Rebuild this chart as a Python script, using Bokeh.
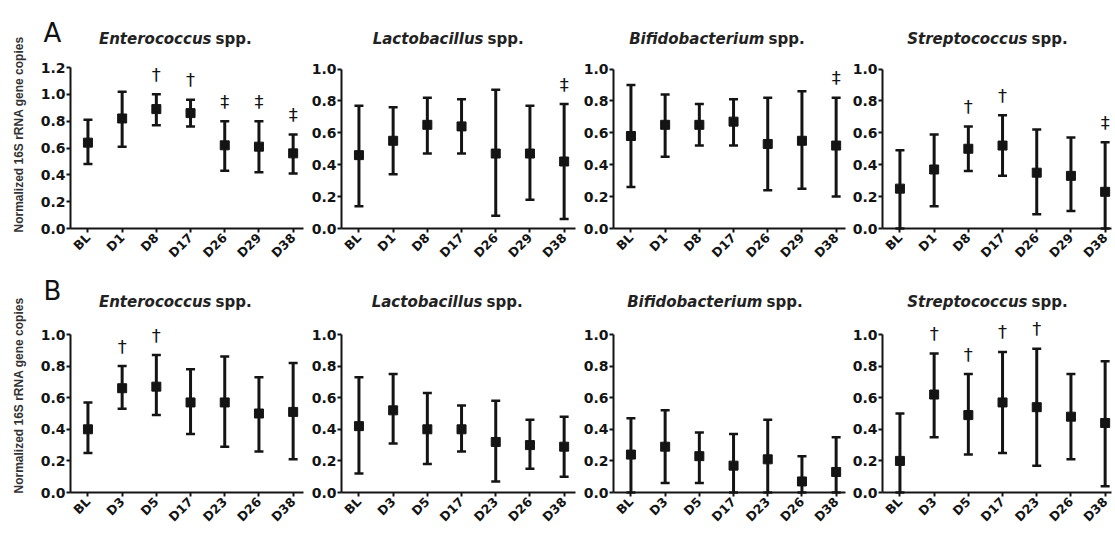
import math
from bokeh.plotting import figure
from bokeh.layouts import row, column
from bokeh.models import (Range1d, FixedTicker, PrintfTickFormatter, ColumnDataSource,
                          Whisker, TeeHead, Label)
from bokeh.embed import file_html
from bokeh.resources import INLINE
from bokeh.core.properties import value

# ---------------- data ----------------
days_a = ["BL", "D1", "D8", "D17", "D26", "D29", "D38"]
days_b = ["BL", "D3", "D5", "D17", "D23", "D26", "D38"]
genera = ["Enterococcus", "Lactobacillus", "Bifidobacterium", "Streptococcus"]
y_label = "Normalized 16S rRNA gene copies"

# Row A
a_ent_mean = [0.64, 0.82, 0.89, 0.86, 0.62, 0.61, 0.56]
a_ent_upper = [0.81, 1.02, 1.00, 0.96, 0.80, 0.80, 0.70]
a_ent_lower = [0.48, 0.61, 0.77, 0.76, 0.43, 0.42, 0.41]
a_ent_sig = ["", "", "†", "†", "‡", "‡", "‡"]

a_lac_mean = [0.46, 0.55, 0.65, 0.64, 0.47, 0.47, 0.42]
a_lac_upper = [0.77, 0.76, 0.82, 0.81, 0.87, 0.77, 0.78]
a_lac_lower = [0.14, 0.34, 0.47, 0.47, 0.08, 0.18, 0.06]
a_lac_sig = ["", "", "", "", "", "", "‡"]

a_bif_mean = [0.58, 0.65, 0.65, 0.67, 0.53, 0.55, 0.52]
a_bif_upper = [0.90, 0.84, 0.78, 0.81, 0.82, 0.86, 0.82]
a_bif_lower = [0.26, 0.45, 0.52, 0.52, 0.24, 0.25, 0.20]
a_bif_sig = ["", "", "", "", "", "", "‡"]

a_str_mean = [0.25, 0.37, 0.50, 0.52, 0.35, 0.33, 0.23]
a_str_upper = [0.49, 0.59, 0.64, 0.71, 0.62, 0.57, 0.54]
a_str_lower = [0.00, 0.14, 0.36, 0.33, 0.09, 0.11, 0.00]
a_str_sig = ["", "", "†", "†", "", "", "‡"]

# Row B
b_ent_mean = [0.40, 0.66, 0.67, 0.57, 0.57, 0.50, 0.51]
b_ent_upper = [0.57, 0.80, 0.87, 0.78, 0.86, 0.73, 0.82]
b_ent_lower = [0.25, 0.53, 0.49, 0.37, 0.29, 0.26, 0.21]
b_ent_sig = ["", "†", "†", "", "", "", ""]

b_lac_mean = [0.42, 0.52, 0.40, 0.40, 0.32, 0.30, 0.29]
b_lac_upper = [0.73, 0.75, 0.63, 0.55, 0.58, 0.46, 0.48]
b_lac_lower = [0.12, 0.31, 0.18, 0.26, 0.07, 0.15, 0.10]
b_lac_sig = ["", "", "", "", "", "", ""]

b_bif_mean = [0.24, 0.29, 0.23, 0.17, 0.21, 0.07, 0.13]
b_bif_upper = [0.47, 0.52, 0.38, 0.37, 0.46, 0.23, 0.35]
b_bif_lower = [0.00, 0.06, 0.06, 0.00, 0.00, 0.00, 0.00]
b_bif_sig = ["", "", "", "", "", "", ""]

b_str_mean = [0.20, 0.62, 0.49, 0.57, 0.54, 0.48, 0.44]
b_str_upper = [0.50, 0.88, 0.75, 0.89, 0.91, 0.75, 0.83]
b_str_lower = [0.00, 0.35, 0.24, 0.25, 0.17, 0.21, 0.04]
b_str_sig = ["", "†", "†", "†", "†", "", ""]

rows_data = [
    ("A", days_a, [
        (a_ent_mean, a_ent_upper, a_ent_lower, a_ent_sig, 1.2),
        (a_lac_mean, a_lac_upper, a_lac_lower, a_lac_sig, 1.0),
        (a_bif_mean, a_bif_upper, a_bif_lower, a_bif_sig, 1.0),
        (a_str_mean, a_str_upper, a_str_lower, a_str_sig, 1.0),
    ]),
    ("B", days_b, [
        (b_ent_mean, b_ent_upper, b_ent_lower, b_ent_sig, 1.0),
        (b_lac_mean, b_lac_upper, b_lac_lower, b_lac_sig, 1.0),
        (b_bif_mean, b_bif_upper, b_bif_lower, b_bif_sig, 1.0),
        (b_str_mean, b_str_upper, b_str_lower, b_str_sig, 1.0),
    ]),
]

# ---------------- layout (pixels) ----------------
INK = "#141414"
FIG_EDGES = [0, 306, 578, 848, 1112]       # horizontal figure boundaries
AXIS_X = [70, 341, 613, 882]               # y-axis positions
AXIS_LEN = [233, 234, 232, 229]            # x-axis line lengths
TITLE_SPLIT = [[212, 484, 765, 1028], [212, 483, 763, 1028]]
X_START = -0.51
PX_CAT = 34.2

ROW_GEOM = [
    dict(top=0, bottom=263, base=228, title=38, letter=32, ylab=134),
    dict(top=263, bottom=530, base=492, title=301, letter=290, ylab=395),
]
AXIS_PX = [[161, 159.5, 159.5, 159.5], [158, 158, 158, 158]]


def px_to_x(px, i):
    return X_START + (px - AXIS_X[i]) / PX_CAT


rows = []
for r, (letter, days, panels) in enumerate(rows_data):
    g = ROW_GEOM[r]
    figs = []
    for i, (mean, upper, lower, sig, top) in enumerate(panels):
        L, R = FIG_EDGES[i], FIG_EDGES[i + 1]
        ppu = AXIS_PX[r][i] / top
        y_hi = (g["base"] - g["top"]) / ppu
        y_lo = -(g["bottom"] - g["base"]) / ppu

        def py(pix):
            return (g["base"] - pix) / ppu

        p = figure(width=R - L, height=g["bottom"] - g["top"],
                   x_range=Range1d(px_to_x(L, i), px_to_x(R, i)),
                   y_range=Range1d(y_lo, y_hi),
                   output_backend="svg", toolbar_location=None,
                   min_border_left=0, min_border_right=0,
                   min_border_top=0, min_border_bottom=0,
                   outline_line_color=None)
        p.xgrid.visible = False
        p.ygrid.visible = False

        ya = p.yaxis[0]
        ya.fixed_location = X_START
        ya.bounds = (0, top)
        ya.ticker = FixedTicker(ticks=[k * 0.2 for k in range(int(round(top / 0.2)) + 1)])
        ya.formatter = PrintfTickFormatter(format="%.1f")
        xa = p.xaxis[0]
        xa.fixed_location = 0
        xa.bounds = (X_START, X_START + AXIS_LEN[i] / PX_CAT)
        xa.ticker = FixedTicker(ticks=list(range(len(days))))
        xa.major_label_overrides = {k: d for k, d in enumerate(days)}
        xa.major_label_orientation = math.pi / 4
        for ax, fs, so in ((ya, "14px", 1), (xa, "12.5px", 3)):
            ax.axis_line_width = 2
            ax.axis_line_color = INK
            ax.major_tick_line_width = 2
            ax.major_tick_line_color = INK
            ax.major_tick_out = 4
            ax.major_tick_in = 0
            ax.minor_tick_out = 0
            ax.minor_tick_in = 0
            ax.major_label_text_font = "DejaVu Sans"
            ax.major_label_text_font_style = "bold"
            ax.major_label_text_font_size = fs
            ax.major_label_text_color = INK
            ax.major_label_standoff = so

        src = ColumnDataSource(dict(x=list(range(len(days))), mean=mean,
                                    upper=upper, lower=lower, sig=sig))
        p.add_layout(Whisker(base="x", upper="upper", lower="lower", source=src,
                             line_width=3, line_color=INK,
                             upper_head=TeeHead(size=9, line_width=2.5, line_color=INK),
                             lower_head=TeeHead(size=9, line_width=2.5, line_color=INK)))
        p.scatter("x", "mean", source=src, marker="square", size=9,
                  fill_color=INK, line_color=INK)
        p.text("x", "upper", text="sig", source=src, y_offset=-20,
               text_align="center", text_baseline="middle",
               text_font=value("DejaVu Sans"), text_font_size="18px", text_color=INK)

        # title: italic genus + roman "spp."
        sx = px_to_x(TITLE_SPLIT[r][i], i)
        ty = py(g["title"])
        p.add_layout(Label(x=sx, y=ty, text=genera[i], text_align="right",
                           text_baseline="middle", x_offset=-1,
                           text_font="DejaVu Sans", text_font_style="bold italic",
                           text_font_size="15px", text_color="#222222"))
        p.add_layout(Label(x=sx, y=ty, text="spp.", text_align="left",
                           text_baseline="middle", x_offset=3,
                           text_font="DejaVu Sans", text_font_style="bold",
                           text_font_size="15px", text_color="#222222"))
        if i == 0:
            p.add_layout(Label(x=px_to_x(52, i), y=py(g["letter"]), text=letter,
                               text_align="center", text_baseline="middle",
                               text_font="DejaVu Sans", text_font_size="26px",
                               text_color="#111111"))
            p.add_layout(Label(x=px_to_x(18, i), y=py(g["ylab"]), text=y_label,
                               angle=math.pi / 2, text_align="center",
                               text_baseline="middle", text_font="Liberation Sans",
                               text_font_style="bold", text_font_size="12px",
                               text_color="#333333"))
        figs.append(p)
    rows.append(row(*figs))

layout = column(*rows)
open("out.html", "w").write(file_html(layout, INLINE))
